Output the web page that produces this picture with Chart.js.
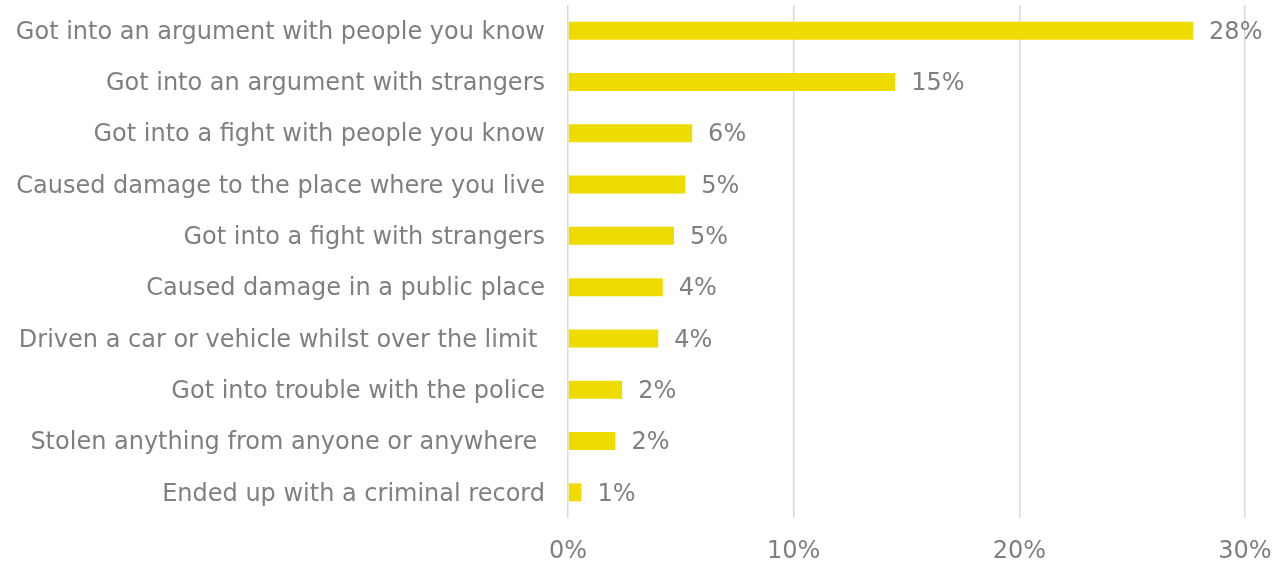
<!DOCTYPE html>
<html>
<head>
<meta charset="utf-8">
<script src="https://cdn.jsdelivr.net/npm/chart.js@4"></script>
<style>
  html, body { margin: 0; padding: 0; background: #fff; }
  #wrap { width: 1283px; height: 561px; position: relative; }
</style>
</head>
<body>
<div id="wrap"><canvas id="behaviourChart"></canvas></div>
<script>
const categories = [
  'Got into an argument with people you know',
  'Got into an argument with strangers',
  'Got into a fight with people you know',
  'Caused damage to the place where you live',
  'Got into a fight with strangers',
  'Caused damage in a public place',
  'Driven a car or vehicle whilst over the limit ',
  'Got into trouble with the police',
  'Stolen anything from anyone or anywhere ',
  'Ended up with a criminal record'
];
const percentages = [27.7, 14.5, 5.5, 5.2, 4.7, 4.2, 4.0, 2.4, 2.1, 0.6];
const tickValues = [0, 10, 20, 30];

const textGrey = '#7f7f7f';
const fontFamily = 'Verdana, "DejaVu Sans", sans-serif';
const fontSize = 24;

// writes the rounded percentage just past the end of each bar
const valueLabels = {
  id: 'valueLabels',
  afterDatasetsDraw(chart) {
    const ctx = chart.ctx;
    const meta = chart.getDatasetMeta(0);
    ctx.save();
    ctx.font = fontSize + 'px ' + fontFamily;
    ctx.fillStyle = textGrey;
    ctx.textAlign = 'left';
    ctx.textBaseline = 'middle';
    meta.data.forEach((bar, i) => {
      const v = chart.data.datasets[0].data[i];
      ctx.fillText(Math.round(v) + '%', bar.x + 16, bar.y + 2);
    });
    ctx.restore();
  }
};

new Chart(document.getElementById('behaviourChart'), {
  type: 'bar',
  data: {
    labels: categories,
    datasets: [{
      data: percentages,
      backgroundColor: '#eedc00',
      barPercentage: 0.7,
      categoryPercentage: 0.5
    }]
  },
  options: {
    indexAxis: 'y',
    responsive: true,
    maintainAspectRatio: false,
    animation: false,
    layout: { padding: { top: 5, right: 38, left: 0, bottom: 0 } },
    plugins: {
      legend: { display: false },
      tooltip: { enabled: false }
    },
    scales: {
      x: {
        min: 0,
        max: 30,
        afterBuildTicks(scale) {
          scale.ticks = tickValues.map(v => ({ value: v }));
        },
        afterFit(scale) {
          scale.height = 43;
          scale.paddingLeft = 0;
          scale.paddingRight = 0;
        },
        grid: { color: '#d9d9d9', lineWidth: 1.5, drawTicks: false },
        border: { display: false },
        ticks: {
          padding: 19,
          color: textGrey,
          font: { family: fontFamily, size: fontSize },
          callback: v => v + '%'
        }
      },
      y: {
        afterFit(scale) {
          scale.width = 568;
          scale.paddingTop = 0;
          scale.paddingBottom = 0;
        },
        grid: { display: false, drawTicks: false },
        border: { display: false },
        ticks: {
          padding: 23,
          labelOffset: 2,
          color: textGrey,
          font: { family: fontFamily, size: fontSize },
          autoSkip: false
        }
      }
    }
  },
  plugins: [valueLabels]
});
</script>
</body>
</html>
